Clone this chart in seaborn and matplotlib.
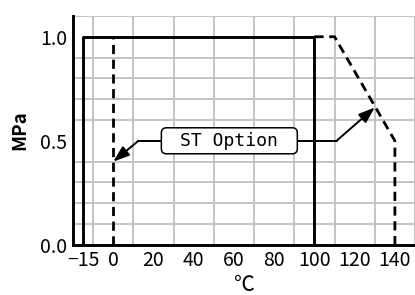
import matplotlib
matplotlib.use("Agg")
import matplotlib.pyplot as plt
import matplotlib.ticker as mticker
from matplotlib.patches import FancyBboxPatch
import pandas as pd
import seaborn as sns

# standard range (solid) and ST option range (dashed)
std_temp = [-15, -15, 100, 100]
std_press = [0.0, 1.0, 1.0, 0.0]
opt_low_temp = [0, 0]
opt_low_press = [0.0, 1.0]
opt_high_temp = [100, 110, 140, 140]
opt_high_press = [1.0, 1.0, 0.5, 0.0]

x_ticks = [-15, 0, 20, 40, 60, 80, 100, 120, 140]
y_ticks = [0.0, 0.5, 1.0]

label_text = "ST Option"
label_pos = (57.7, 0.5)
label_box = (67.6, 0.125)   # width, height in data units
left_bend, left_tip = (12.5, 0.5), (0, 0.4)
right_bend, right_tip = (111, 0.5), (130, 0.66)

sns.set_style("white")
plt.rcParams['font.family'] = ['Noto Sans CJK JP', 'DejaVu Sans']
plt.rcParams['text.color'] = 'black'
plt.rcParams['axes.labelcolor'] = 'black'
plt.rcParams['xtick.color'] = 'black'
plt.rcParams['ytick.color'] = 'black'

fig = plt.figure(figsize=(4.15, 2.95), dpi=100)
ax = fig.add_axes([0.176, 0.17, 0.824, 0.776])

std = pd.DataFrame({'t': std_temp, 'p': std_press})
low = pd.DataFrame({'t': opt_low_temp, 'p': opt_low_press})
high = pd.DataFrame({'t': opt_high_temp, 'p': opt_high_press})

dash = (0, (3.3, 2.0))
sns.lineplot(data=low, x='t', y='p', sort=False, estimator=None, ax=ax,
             color='black', lw=2.0, linestyle=dash, zorder=3)
sns.lineplot(data=high, x='t', y='p', sort=False, estimator=None, ax=ax,
             color='black', lw=2.0, linestyle=dash, zorder=3)
sns.lineplot(data=std, x='t', y='p', sort=False, estimator=None, ax=ax,
             color='black', lw=2.1, zorder=4)

# label with bent arrows
ax.plot([left_bend[0], right_bend[0]], [left_bend[1], right_bend[1]],
        color='black', lw=1.4, zorder=5)
arrow = dict(arrowstyle='-|>,head_length=0.7,head_width=0.25', color='black',
             lw=1.4, mutation_scale=14, shrinkA=0, shrinkB=0)
ax.annotate("", xy=left_tip, xytext=left_bend, arrowprops=arrow, zorder=5)
ax.annotate("", xy=right_tip, xytext=right_bend, arrowprops=arrow, zorder=5)

# rounded label box (aspect corrects for the very different x/y scales)
px_x = 2.01            # pixels per x unit
px_y = 208.0           # pixels per y unit
box = FancyBboxPatch((label_pos[0] - label_box[0] / 2, label_pos[1] - label_box[1] / 2),
                     label_box[0], label_box[1],
                     boxstyle='round,pad=0,rounding_size=2.6',
                     mutation_aspect=px_x / px_y,
                     fc='white', ec='black', lw=1.1, zorder=6)
ax.add_patch(box)
ax.text(label_pos[0], label_pos[1], label_text, ha='center', va='center',
        fontsize=13, zorder=7, family=['DejaVu Sans Mono'])

ax.set_xlim(-20, 150)
ax.set_ylim(0, 1.1)
ax.set_xticks(x_ticks)
ax.set_xticklabels(['\u221215'] + [str(v) for v in x_ticks[1:]])
ax.set_yticks(y_ticks)
ax.set_yticklabels([f"{v:.1f}" for v in y_ticks])
ax.xaxis.set_minor_locator(mticker.MultipleLocator(10))
ax.yaxis.set_minor_locator(mticker.MultipleLocator(0.1))
ax.grid(False, which='major')
ax.grid(True, which='minor', color='#c4c4c4', lw=1.4)
ax.tick_params(which='minor', length=0)
ax.tick_params(which='major', direction='in', length=5, width=1.6,
               labelsize=14, color='black')
ax.tick_params(axis='x', pad=4)
ax.tick_params(axis='y', pad=4)

for s in ['top', 'right']:
    ax.spines[s].set_visible(False)
for s in ['left', 'bottom']:
    ax.spines[s].set_color('black')
    ax.spines[s].set_linewidth(2.1)

ax.set_xlabel("\u2103", fontsize=15, labelpad=2)
ax.set_ylabel("MPa", fontsize=13.5, labelpad=8, fontweight='bold')

fig.savefig("out.png", dpi=100)
